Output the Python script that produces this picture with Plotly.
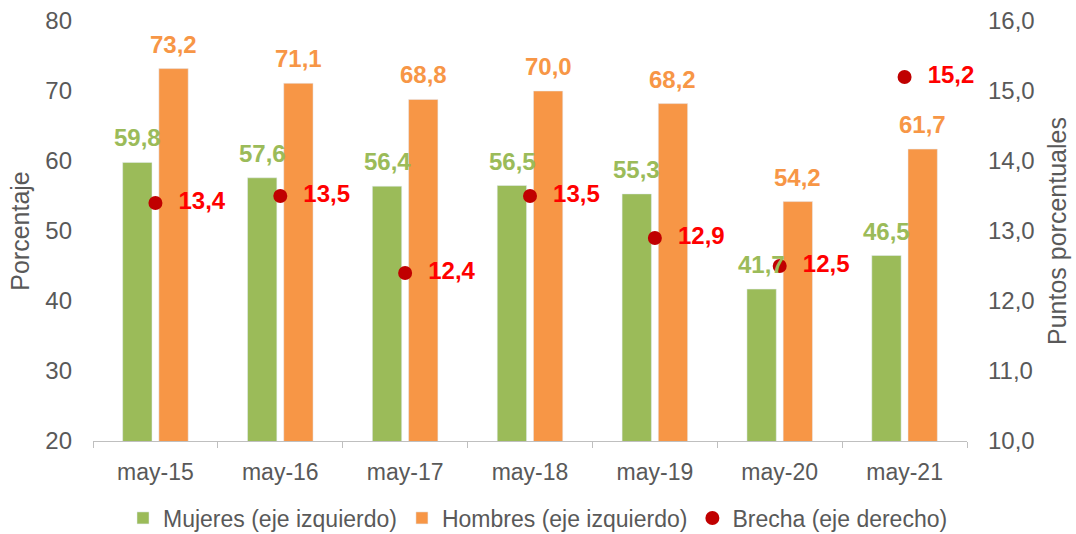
import plotly.graph_objects as go

categories = ["may-15", "may-16", "may-17", "may-18", "may-19", "may-20", "may-21"]
mujeres = [59.8, 57.6, 56.4, 56.5, 55.3, 41.7, 46.5]
hombres = [73.2, 71.1, 68.8, 70.0, 68.2, 54.2, 61.7]
brecha = [13.4, 13.5, 12.4, 13.5, 12.9, 12.5, 15.2]
series_names = ["Mujeres (eje izquierdo)", "Hombres (eje izquierdo)", "Brecha (eje derecho)"]

GREEN = "#9BBB59"
ORANGE = "#F79646"
DARKRED = "#C00000"
RED = "#FF0000"
FONT = "Liberation Sans, Arial, sans-serif"
GREY = "#595959"
FS = 23

def fmt(v):
    return f"{v:.1f}".replace(".", ",")

fig = go.Figure()
fig.add_trace(go.Bar(x=categories, y=mujeres, name=series_names[0],
                     marker_color=GREEN, cliponaxis=False))
fig.add_trace(go.Bar(x=categories, y=hombres, name=series_names[1],
                     marker_color=ORANGE, cliponaxis=False))
fig.add_trace(go.Scatter(
    x=categories, y=brecha, name=series_names[2], yaxis="y2",
    mode="markers+text", marker=dict(color=DARKRED, size=14),
    text=["  " + fmt(v) for v in brecha], textposition="middle right",
    textfont=dict(color=RED, size=FS + 1, family=FONT, weight="bold"),
    cliponaxis=False,
))

annotations = []
for c, m, h in zip(categories, mujeres, hombres):
    annotations.append(dict(x=c, y=m, xref="x", yref="y", text=fmt(m), showarrow=False,
                            xshift=-18, yanchor="bottom", yshift=9,
                            font=dict(color=GREEN, size=FS + 1, family=FONT, weight="bold")))
    annotations.append(dict(x=c, y=h, xref="x", yref="y", text=fmt(h), showarrow=False,
                            xshift=18, yanchor="bottom", yshift=9,
                            font=dict(color=ORANGE, size=FS + 1, family=FONT, weight="bold")))

fig.update_layout(
    width=1076, height=534,
    margin=dict(l=93, r=109, t=21, b=93, autoexpand=False),
    paper_bgcolor="white", plot_bgcolor="white",
    separators=",.",
    font=dict(family=FONT, size=FS, color=GREY),
    barmode="group", bargap=0.42, bargroupgap=0.19,
    showlegend=True,
    annotations=annotations,
    legend=dict(orientation="h", x=0.5, xanchor="center", xref="container",
                y=0.03, yanchor="middle", yref="container",
                font=dict(size=FS, color=GREY), traceorder="normal"),
    xaxis=dict(showline=True, linecolor="#BFBFBF", linewidth=1,
               ticks="outside", tickson="boundaries", ticklen=6, tickcolor="#BFBFBF",
               ticklabelstandoff=10,
               tickfont=dict(size=FS, color=GREY), showgrid=False),
    yaxis=dict(range=[20, 80], dtick=10, showgrid=False, showline=False,
               zeroline=False, tickfont=dict(size=24, color=GREY),
               ticklabelstandoff=20,
               title=dict(text="Porcentaje", font=dict(size=25, color=GREY), standoff=8)),
    yaxis2=dict(range=[10, 16], dtick=1, tickformat=".1f", overlaying="y", side="right",
                showgrid=False, showline=False, zeroline=False,
                tickfont=dict(size=24, color=GREY), ticklabelstandoff=20,
                title=dict(text="Puntos porcentuales", font=dict(size=25, color=GREY), standoff=14)),
)

fig.write_html("out.html", config={"displayModeBar": False},
               post_script="document.body.style.margin='0';document.body.style.overflow='hidden';")
